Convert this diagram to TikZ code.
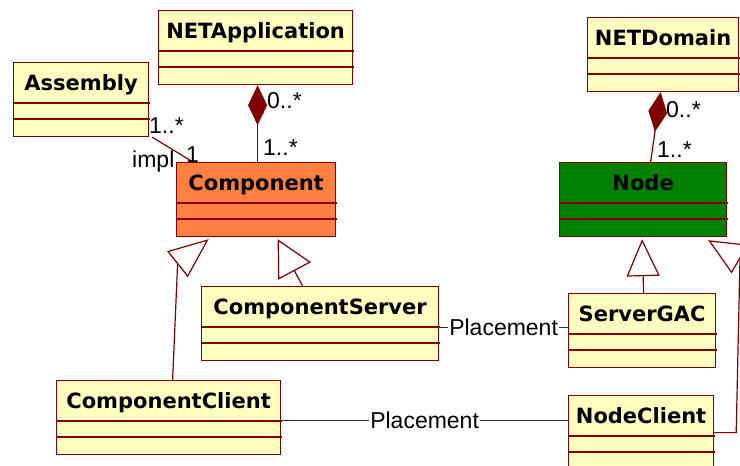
\documentclass[tikz,border=0pt]{standalone}
\usepackage{fontspec}
\setmainfont{Liberation Sans}
\newfontfamily\classfont{DejaVu Sans}
\usepackage{tikz}
\usetikzlibrary{calc,positioning,arrows.meta}
\definecolor{umlred}{RGB}{128,0,0}
\definecolor{umlyellow}{RGB}{255,255,192}
\definecolor{umlorange}{RGB}{255,128,64}
\definecolor{umlgreen}{RGB}{0,128,0}
\definecolor{linkgray}{RGB}{50,50,50}

\begin{document}
\begin{tikzpicture}[x=1pt,y=-1pt]
\tikzstyle{classbox}=[draw=umlred, line width=1.2pt, anchor=north west,
                      minimum height=74pt, inner sep=0pt]
\tikzstyle{classname}=[font=\classfont\bfseries\fontsize{21}{24}\selectfont,
                       inner sep=0pt, anchor=base]
\tikzstyle{mult}=[font=\fontsize{23}{26}\selectfont, inner sep=0pt, anchor=base west]
\tikzstyle{assoc}=[draw=umlred, line width=1.2pt]
\tikzstyle{inherit}=[draw=umlred, line width=1.2pt,
                     -{Triangle[length=37pt,width=33pt,fill=white]}]
\tikzstyle{link}=[draw=linkgray, line width=1pt]
\tikzstyle{linklabel}=[font=\fontsize{23}{26}\selectfont, fill=white, inner sep=1pt]
\useasboundingbox (0,0) rectangle (740,466);

% classes
\foreach \n/\x/\y/\w/\c/\t in {netapp/158/10/194/umlyellow/NETApplication,
    assembly/13/62/135/umlyellow/Assembly,
    comp/176/162/159/umlorange/Component,
    netdomain/587/17/151/umlyellow/NETDomain,
    node/559/162/167/umlgreen/Node,
    cserver/201/286/237/umlyellow/ComponentServer,
    cclient/56/380/224/umlyellow/ComponentClient,
    gac/568/293/147/umlyellow/ServerGAC,
    nclient/568/395/145/umlyellow/NodeClient}{
  \node[classbox, fill=\c, minimum width=\w pt] (\n) at (\x,\y) {};
  \node[classname] (\n-t) at ($(\n.north)+(0,28)$) {\t};
  \foreach \d in {41,57}
    \draw[umlred, line width=1.2pt] ($(\n.north west)+(0,\d)$) -- ++(\w+2,0);
}

% compositions
\draw[assoc, {Diamond[length=40pt,width=19pt,fill=umlred]}-]
  ([xshift=2pt]netapp.south) -- ([xshift=2pt]netapp.south |- comp.north);
\draw[assoc, {Diamond[length=40pt,width=19pt,fill=umlred]}-]
  ([xshift=-2.5pt]netdomain.south) -- ([xshift=7.5pt]node.north);
\node[mult] (m1) at (267,108) {0..*};
\node[mult] (m2) at (263,155) {1..*};
\node[mult] (m3) at (666,117) {0..*};
\node[mult] (m4) at (657,157) {1..*};

% impl
\draw[assoc] ([xshift=3pt]assembly.south east) -- ([xshift=17pt]comp.north west);
\node[mult] (m5) at (149,133) {1..*};
\node[mult] (m6) at (186,162) {1};
\node[mult] (impl) at (132,167) {impl};

% generalizations
\draw[inherit, -{Triangle[length=40pt,width=33pt,fill=white]}]
  ([xshift=4pt]cclient.north) -- ++(5,-116) -- ([xshift=-47.5pt,yshift=-2pt]comp.south);
\draw[inherit, -{Triangle[length=36pt,width=37pt,fill=white]}]
  ([xshift=-17.5pt]cserver.north) -- ([xshift=21.5pt,yshift=-2pt]comp.south);
\draw[inherit] ([xshift=1.5pt]gac.north) -- ([yshift=-2pt]gac.north |- node.south);
\draw[inherit] (nclient.east) -- ++(22,0) -- (740,259)
  -- ([xshift=-19pt,yshift=-3pt]node.south east);

% placements
\draw[link] ([yshift=-4pt]cserver.east) -- ([yshift=-4pt]cserver.east -| gac.west)
  node[linklabel, midway] (pl1) {Placement};
\draw[link] ([yshift=-3pt]cclient.east) -- ([yshift=-3pt]cclient.east -| nclient.west)
  node[linklabel, midway] (pl2) {Placement};
\end{tikzpicture}
\end{document}
